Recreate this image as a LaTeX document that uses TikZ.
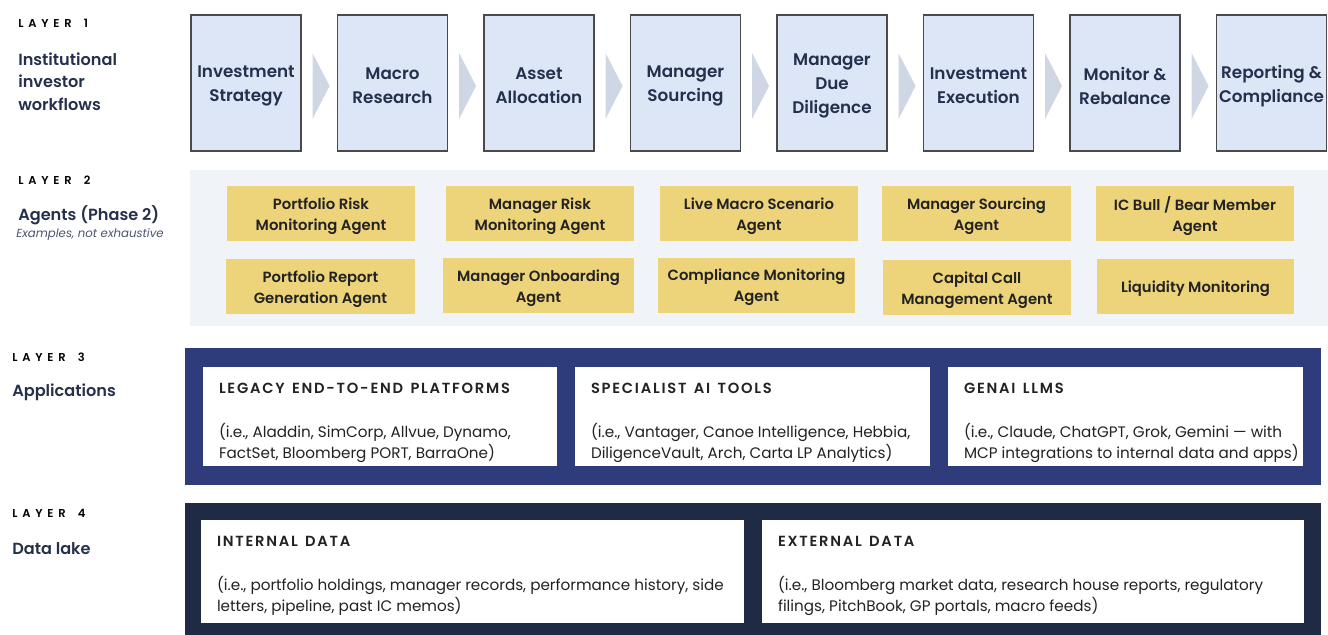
\documentclass[tikz,border=0pt]{standalone}
\usepackage{fontspec}
\setmainfont{Poppins}[BoldFont={Poppins SemiBold}, ItalicFont={Poppins Italic}]
\newfontfamily\trackfont[LetterSpace=42, WordSpace=1.6]{Poppins SemiBold}
\newfontfamily\headfont[LetterSpace=12, WordSpace=1.4]{Poppins SemiBold}
\usetikzlibrary{calc}

\definecolor{ink}{HTML}{24304C}
\definecolor{wfFill}{HTML}{DCE6F6}
\definecolor{wfLine}{HTML}{4A4A4A}
\definecolor{chev}{HTML}{CFD7E4}
\definecolor{agentBg}{HTML}{F0F3F8}
\definecolor{agentFill}{HTML}{EDD47B}
\definecolor{appBand}{HTML}{2F3C7C}
\definecolor{dataBand}{HTML}{1F2A44}
\definecolor{bodyInk}{HTML}{222222}
\definecolor{noteInk}{HTML}{4A5370}

\tikzset{
  wfbox/.style={draw=wfLine, line width=0.8pt, fill=wfFill, inner sep=0pt,
    minimum width=110*0.75pt, minimum height=136*0.75pt},
  wftext/.style={align=center, inner sep=0pt, text=ink,
    font=\bfseries\fontsize{12.6}{18}\selectfont},
  agent/.style={fill=agentFill, inner sep=0pt, minimum height=55*0.75pt},
  agenttext/.style={align=center, inner sep=0pt, text=bodyInk,
    font=\bfseries\fontsize{11.1}{15.75}\selectfont},
  panel/.style={fill=white, inner sep=0pt},
  tag/.style={anchor=base west, inner sep=0pt, text=black, font=\trackfont\fontsize{8.6}{10}\selectfont},
  side/.style={anchor=base west, inner sep=0pt, text=ink, font=\bfseries\fontsize{12.1}{17.25}\selectfont},
  ptitle/.style={anchor=base west, inner sep=0pt, text=bodyInk, font=\headfont\fontsize{11}{12}\selectfont},
  pbody/.style={anchor=base west, inner sep=0pt, text=bodyInk, font=\fontsize{11.4}{15.75}\selectfont},
}

\begin{document}
\begin{tikzpicture}[x=0.75pt, y=-0.75pt]
\useasboundingbox (0,0) rectangle (1328,635);

% ---- Layer 1: workflow steps ----
\node[tag] (tag1) at (18,28) {LAYER 1};
\node[side] (side1a) at (18,65) {Institutional};
\node[side] (side1b) at (18,88) {investor};
\node[side] (side1c) at (18,111) {workflows};

\foreach [count=\i] \t in {{Investment\\Strategy}, {Macro\\Research}, {Asset\\Allocation},
    {Manager\\Sourcing}, {Manager\\Due\\Diligence}, {Investment\\Execution},
    {Monitor \&\\Rebalance}, {Reporting \&\\Compliance}} {
  \node[wfbox] (wf\i) at ({246+146.5*(\i-1)},83) {};
  \node[wftext] (wft\i) at ($(wf\i.center)+(0,3)$) {\t};
}

\foreach \i in {1,...,7}
  \fill[chev] ($(wf\i.east)+(11,-30)$) -- ($(wf\i.east)+(28,3)$) -- ($(wf\i.east)+(11,36)$) -- cycle;

% ---- Layer 2: agents ----
\node[tag] (tag2) at (18,184) {LAYER 2};
\node[side] (side2) at (18,220) {Agents (Phase 2)};
\node[anchor=base west, inner sep=0pt, text=noteInk, font=\itshape\fontsize{8.8}{11}\selectfont] (note2) at (16,237) {Examples, not exhaustive};

\fill[agentBg] (190,170) rectangle (1328,326);

\foreach \n/\cx/\cy/\w/\t in {
    1/321/213.5/188/{Portfolio Risk\\Monitoring Agent},
    2/540/213.5/188/{Manager Risk\\Monitoring Agent},
    3/759/213.5/198/{Live Macro Scenario\\Agent},
    4/976.5/213.5/189/{Manager Sourcing\\Agent},
    5/1195/213.5/198/{IC Bull / Bear Member\\Agent},
    6/320.5/286.5/189/{Portfolio Report\\Generation Agent},
    7/538.5/285.5/191/{Manager Onboarding\\Agent},
    8/756.5/285/197/{Compliance Monitoring\\Agent},
    9/977/287.5/188/{Capital Call\\Management Agent},
    10/1195.5/286.5/197/{Liquidity Monitoring}} {
  \node[agent, minimum width=\w*0.75pt] (ag\n) at (\cx,\cy) {};
  \node[agenttext] (agt\n) at ($(ag\n.center)+(0,2.5)$) {\t};
}

% ---- Layer 3: applications ----
\node[tag] (tag3) at (12,361) {LAYER 3};
\node[side] (side3) at (12,396) {Applications};

\fill[appBand] (185,348) rectangle (1321,485);
\node[panel, minimum width=354*0.75pt, minimum height=99*0.75pt] (app1) at (380,416.5) {};
\node[panel, minimum width=355*0.75pt, minimum height=99*0.75pt] (app2) at (752.5,416.5) {};
\node[panel, minimum width=355*0.75pt, minimum height=99*0.75pt] (app3) at (1125.5,416.5) {};

\node[ptitle] (app1t) at ($(app1.north west)+(16,27)$) {LEGACY END-TO-END PLATFORMS};
\node[pbody] (app1a) at ($(app1.north west)+(16,71)$) {(i.e., Aladdin, SimCorp, Allvue, Dynamo,};
\node[pbody] (app1b) at ($(app1.north west)+(16,92)$) {FactSet, Bloomberg PORT, BarraOne)};

\node[ptitle] (app2t) at ($(app2.north west)+(16,27)$) {SPECIALIST AI TOOLS};
\node[pbody] (app2a) at ($(app2.north west)+(16,71)$) {(i.e., Vantager, Canoe Intelligence, Hebbia,};
\node[pbody] (app2b) at ($(app2.north west)+(16,92)$) {DiligenceVault, Arch, Carta LP Analytics)};

\node[ptitle] (app3t) at ($(app3.north west)+(16,27)$) {GENAI LLMS};
\node[pbody] (app3a) at ($(app3.north west)+(16,71)$) {(i.e., Claude, ChatGPT, Grok, Gemini — with};
\node[pbody] (app3b) at ($(app3.north west)+(16,92)$) {MCP integrations to internal data and apps)};

% ---- Layer 4: data lake ----
\node[tag] (tag4) at (12,517) {LAYER 4};
\node[side] (side4) at (12,554) {Data lake};

\fill[dataBand] (185,503) rectangle (1321,635);
\node[panel, minimum width=543*0.75pt, minimum height=103*0.75pt] (dat1) at (472.5,571.5) {};
\node[panel, minimum width=542*0.75pt, minimum height=103*0.75pt] (dat2) at (1033,571.5) {};

\node[ptitle] (dat1t) at ($(dat1.north west)+(16,27)$) {INTERNAL DATA};
\node[pbody] (dat1a) at ($(dat1.north west)+(16,71)$) {(i.e., portfolio holdings, manager records, performance history, side};
\node[pbody] (dat1b) at ($(dat1.north west)+(16,92)$) {letters, pipeline, past IC memos)};

\node[ptitle] (dat2t) at ($(dat2.north west)+(16,27)$) {EXTERNAL DATA};
\node[pbody] (dat2a) at ($(dat2.north west)+(16,71)$) {(i.e., Bloomberg market data, research house reports, regulatory};
\node[pbody] (dat2b) at ($(dat2.north west)+(16,92)$) {filings, PitchBook, GP portals, macro feeds)};

\end{tikzpicture}
\end{document}
